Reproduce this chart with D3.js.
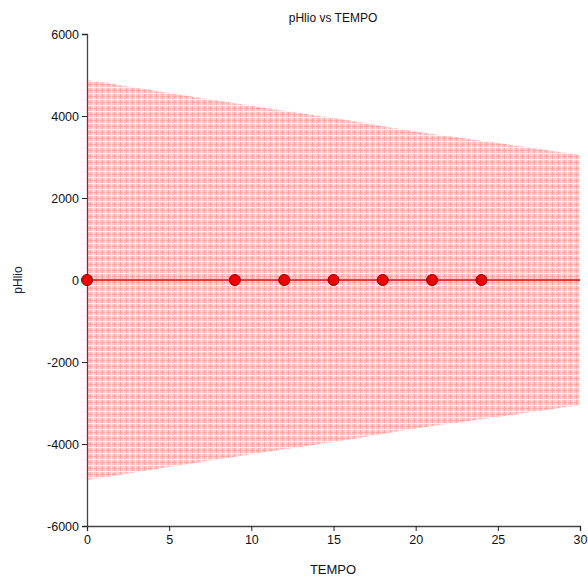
<!DOCTYPE html>
<html>
<head>
<meta charset="utf-8">
<script src="https://cdn.jsdelivr.net/npm/d3@7"></script>
<style>
  html, body { margin: 0; padding: 0; background: #fff; }
  svg text { font-family: "Liberation Sans", Arial, sans-serif; }
</style>
</head>
<body>
<div id="chart"></div>
<script>
// Observations of pHlio over TEMPO
const tempo = [0, 9, 12, 15, 18, 21, 24];
const phlio = [0, 0, 0, 0, 0, 0, 0];

// Fitted line and its band (upper/lower limits)
const fitX = [0, 30];
const fitY = [0, 0];
const bandX = [0, 5, 10, 15, 20, 25, 30];
const bandUpper = [4880, 4560, 4250, 3950, 3620, 3340, 3050];
const bandLower = [-4880, -4560, -4250, -3950, -3620, -3340, -3050];

const xTicks = [0, 5, 10, 15, 20, 25, 30];
const yTicks = [-6000, -4000, -2000, 0, 2000, 4000, 6000];

const W = 588, H = 579;
const margin = { left: 87, right: 8, top: 34, bottom: 53 };

const svg = d3.select("#chart").append("svg")
  .attr("width", W).attr("height", H);

const x = d3.scaleLinear().domain([0, 30]).range([margin.left, W - margin.right]);
const y = d3.scaleLinear().domain([-6000, 6000]).range([H - margin.bottom, margin.top]);

// Plain integer labels with an ASCII hyphen for negatives
const fmt = d => String(Math.round(d));

// Cross-hatched fill for the band
const defs = svg.append("defs");
const pat = defs.append("pattern")
  .attr("id", "hatch").attr("patternUnits", "userSpaceOnUse")
  .attr("width", 6).attr("height", 6);
pat.append("rect").attr("width", 6).attr("height", 6).attr("fill", "#ffc9c9");
pat.append("rect").attr("x", 0).attr("y", 0).attr("width", 1).attr("height", 6).attr("fill", "#ffa3a3");
pat.append("rect").attr("x", 0).attr("y", 0).attr("width", 6).attr("height", 1).attr("fill", "#ffa3a3");
pat.append("rect").attr("x", 3).attr("y", 0).attr("width", 1).attr("height", 6).attr("fill", "#fff0f0");
pat.append("rect").attr("x", 0).attr("y", 3).attr("width", 6).attr("height", 1).attr("fill", "#fff0f0");

const bandData = bandX.map((v, i) => ({ x: v, lo: bandLower[i], hi: bandUpper[i] }));
svg.append("path")
  .datum(bandData)
  .attr("fill", "url(#hatch)")
  .attr("d", d3.area().x(d => x(d.x)).y0(d => y(d.lo)).y1(d => y(d.hi)).curve(d3.curveMonotoneX));

// Fit line
svg.append("path")
  .datum(fitX.map((v, i) => [v, fitY[i]]))
  .attr("fill", "none").attr("stroke", "#e00000").attr("stroke-width", 1.3)
  .attr("d", d3.line().x(d => x(d[0])).y(d => y(d[1])));

// Axes
const axisColor = "#444";
const gx = svg.append("g")
  .attr("transform", `translate(0,${y(-6000)})`)
  .call(d3.axisBottom(x).tickValues(xTicks).tickFormat(fmt).tickSizeOuter(0).tickSize(5).tickPadding(4));
const gy = svg.append("g")
  .attr("transform", `translate(${x(0)},0)`)
  .call(d3.axisLeft(y).tickValues(yTicks).tickFormat(fmt).tickSizeOuter(0).tickSize(5).tickPadding(3));
[gx, gy].forEach(g => {
  g.select(".domain").attr("stroke", axisColor).attr("stroke-width", 1.3);
  g.selectAll(".tick line").attr("stroke", "#222").attr("stroke-width", 1);
  g.selectAll(".tick text").attr("fill", "#111").attr("font-size", 12.5)
    .attr("font-family", "'Liberation Sans', Arial, sans-serif");
});

// Points
svg.append("g").selectAll("circle")
  .data(tempo.map((t, i) => [t, phlio[i]]))
  .join("circle")
  .attr("cx", d => x(d[0])).attr("cy", d => y(d[1]))
  .attr("r", 5.5)
  .attr("fill", "#ee0000").attr("stroke", "#8a0000").attr("stroke-width", 1);

// Titles
svg.append("text")
  .attr("x", 333).attr("y", 22)
  .attr("text-anchor", "middle").attr("font-size", 12).attr("fill", "#111")
  .text("pHlio vs TEMPO");
svg.append("text")
  .attr("x", 333).attr("y", 574)
  .attr("text-anchor", "middle").attr("font-size", 13).attr("fill", "#111")
  .text("TEMPO");
svg.append("text")
  .attr("transform", "translate(22,280) rotate(-90)")
  .attr("text-anchor", "middle").attr("font-size", 12).attr("fill", "#1a1a40")
  .text("pHlio");
</script>
</body>
</html>
